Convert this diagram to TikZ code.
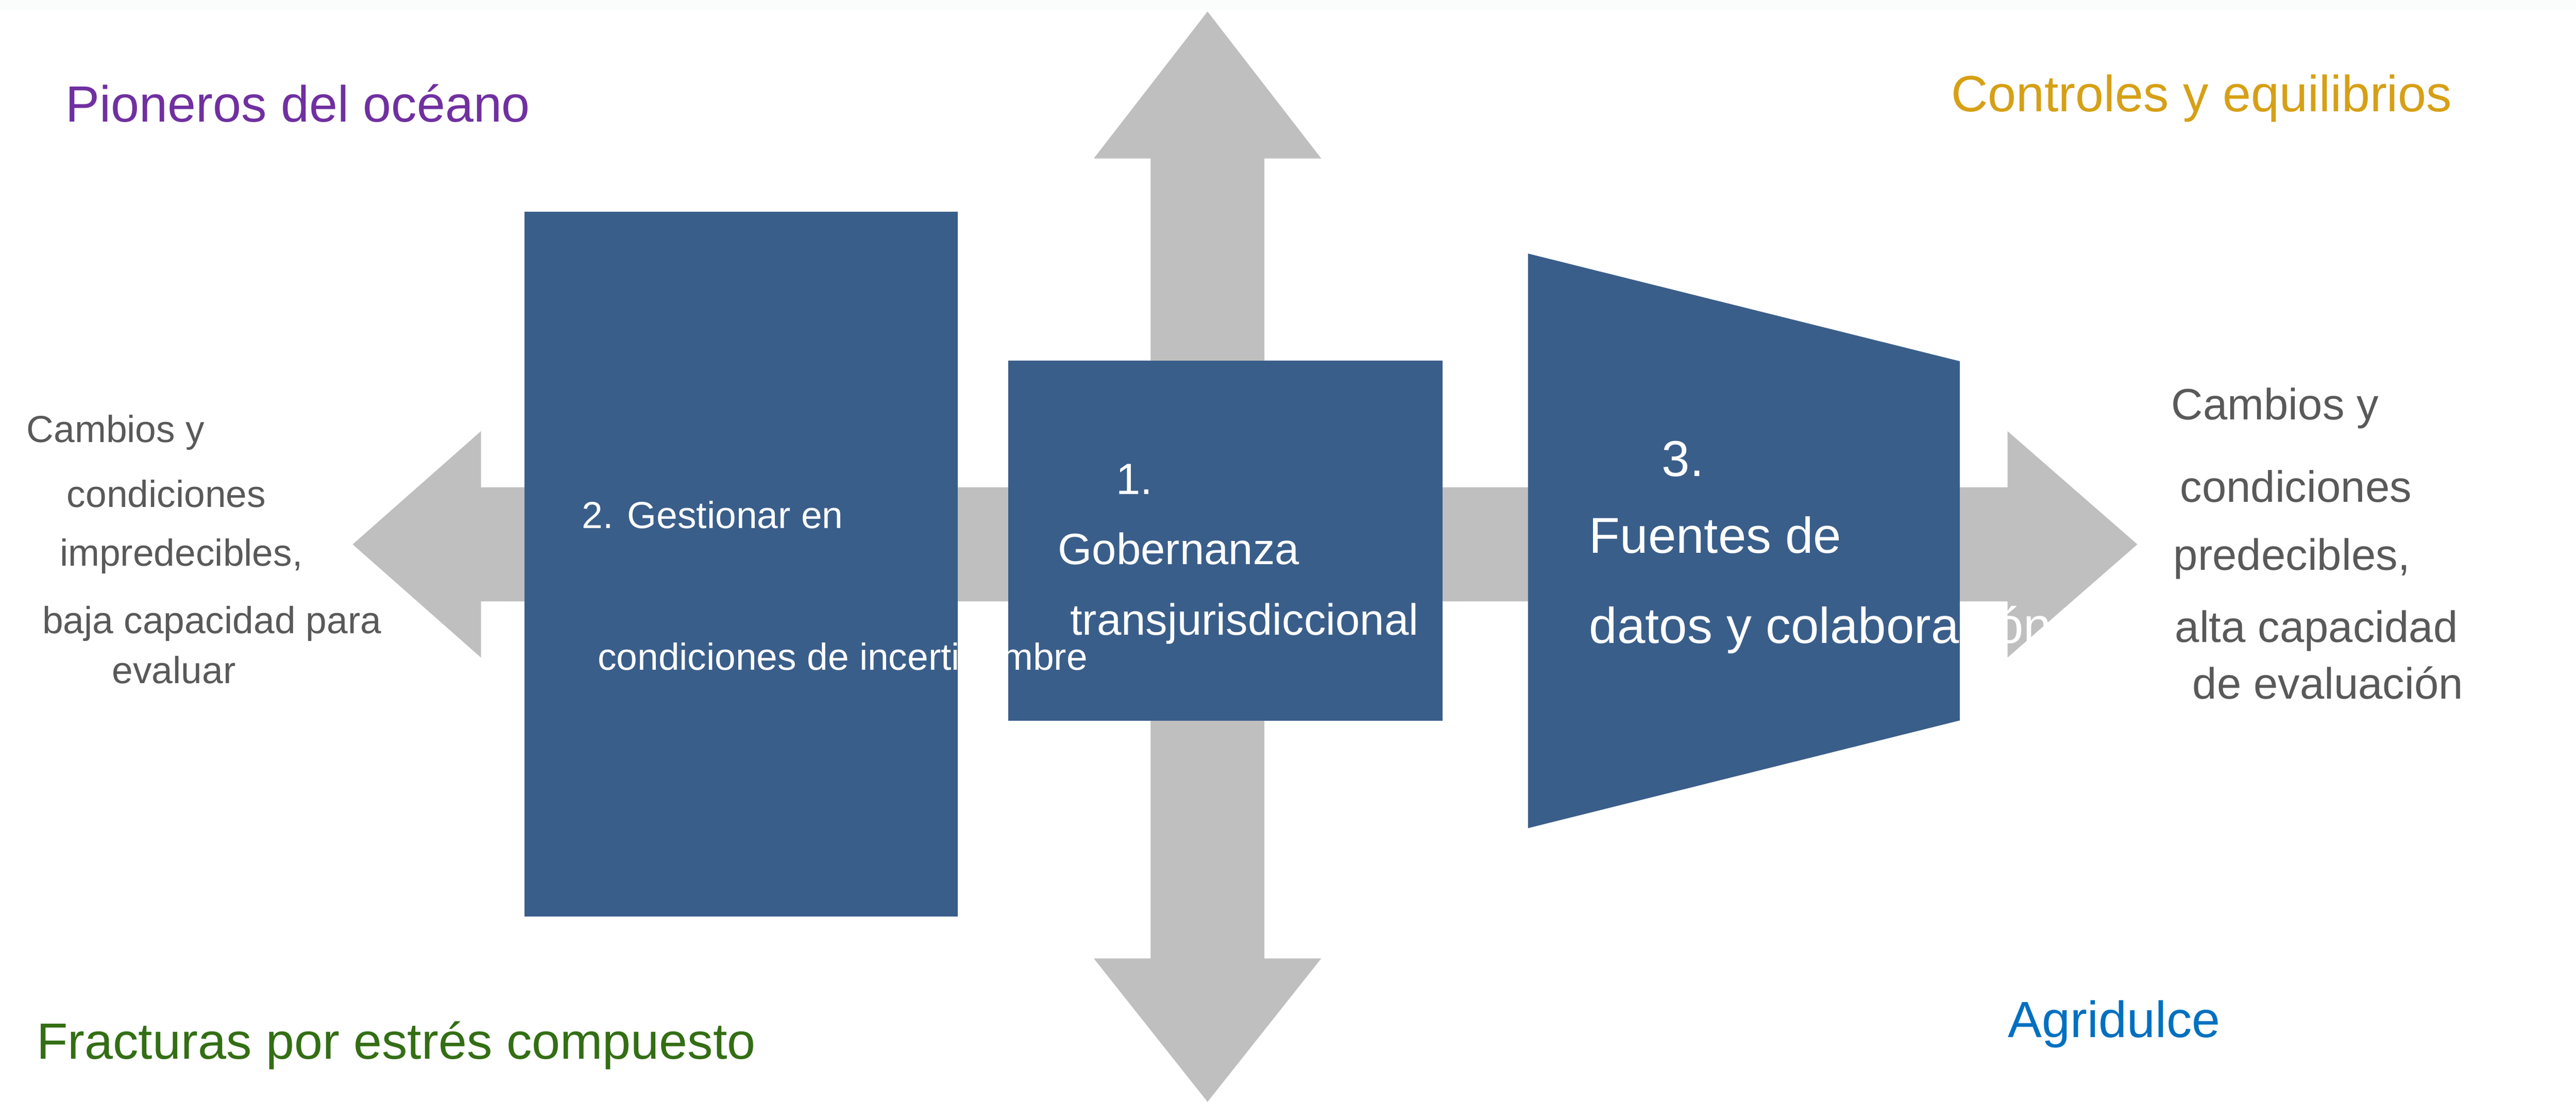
\documentclass[tikz,border=0pt]{standalone}
\usepackage{fontspec}
\setmainfont{Liberation Sans}
\usetikzlibrary{positioning}
\definecolor{panel}{RGB}{58,94,138}
\definecolor{flecha}{RGB}{191,191,191}
\definecolor{texto}{RGB}{89,89,89}
\definecolor{morado}{RGB}{112,48,160}
\definecolor{dorado}{RGB}{214,160,22}
\definecolor{verde}{RGB}{51,110,20}
\definecolor{azul}{RGB}{0,112,192}
\definecolor{franja}{RGB}{250,253,252}
\tikzset{every node/.append style={inner sep=0pt, outer sep=0pt}}
\tikzset{titulo/.style={anchor=base west, font=\fontsize{28.8}{34}\selectfont}}
\tikzset{lado/.style={anchor=mid west, text=texto}}
\tikzset{caja/.style={fill=panel, draw=none, anchor=south west}}
\tikzset{blanco/.style={anchor=mid west, text=white}}

\begin{document}
\begin{tikzpicture}
  \useasboundingbox (0,0) rectangle (51.2,21.9);
  \fill[white] (0,0) rectangle (51.2,21.9);
  \fill[franja] (0,21.7) rectangle (51.2,21.9);

  % gray cross of arrows
  \fill[flecha] (7.01,11.08) -- (9.56,13.33) -- (9.56,12.215) -- (39.90,12.215)
    -- (39.90,13.33) -- (42.48,11.08) -- (39.90,8.83) -- (39.90,9.945)
    -- (9.56,9.945) -- (9.56,8.83) -- cycle;
  \fill[flecha] (24.00,21.67) -- (26.26,18.75) -- (25.13,18.75) -- (25.13,2.85)
    -- (26.26,2.85) -- (24.00,0) -- (21.74,2.85) -- (22.87,2.85)
    -- (22.87,18.75) -- (21.74,18.75) -- cycle;

  % blue panels
  \node[caja, minimum width=8.62cm, minimum height=14.01cm] (gestion) at (10.42,3.68) {};
  \node[caja, minimum width=8.63cm, minimum height=7.16cm] (gobernanza) at (20.04,7.57) {};
  \fill[panel] (30.37,16.86) -- (38.95,14.72) -- (38.95,7.58) -- (30.37,5.44) -- cycle;

  % corner titles
  \node[titulo, text=morado] (oceano) at (1.31,19.48) {Pioneros del océano};
  \node[titulo, text=dorado] (controles) at (38.78,19.68) {Controles y equilibrios};
  \node[titulo, text=verde] (fracturas) at (0.73,0.85) {Fracturas por estrés compuesto};
  \node[titulo, text=azul] (agridulce) at (39.91,1.28) {Agridulce};

  % side texts
  \foreach \x/\y/\t [count=\i] in {0.53/13.20/{Cambios y}, 1.33/11.91/{condiciones},
      1.19/10.74/{impredecibles,}, 0.84/9.40/{baja capacidad para}, 2.23/8.41/{evaluar}}
    \node[lado, font=\fontsize{21.3}{26}\selectfont] (izq-\i) at (\x,\y) {\t};
  \foreach \x/\y/\t [count=\i] in {43.16/13.65/{Cambios y}, 43.33/12.01/{condiciones},
      43.20/10.66/{predecibles,}, 43.23/9.23/{alta capacidad}, 43.58/8.10/{de evaluación}}
    \node[lado, font=\fontsize{24.8}{30}\selectfont] (der-\i) at (\x,\y) {\t};

  % panel texts
  \node[blanco, font=\fontsize{21.3}{26}\selectfont] (gestion-a) at (11.57,11.49) {2. Gestionar en};
  \node[blanco, font=\fontsize{21.3}{26}\selectfont] (gestion-b) at (11.88,8.68) {condiciones de incertidumbre};
  \node[blanco, font=\fontsize{24.8}{30}\selectfont] (gobernanza-a) at (22.18,12.17) {1.};
  \node[blanco, font=\fontsize{24.8}{30}\selectfont] (gobernanza-b) at (21.03,10.77) {Gobernanza};
  \node[blanco, font=\fontsize{24.8}{30}\selectfont] (gobernanza-c) at (21.27,9.37) {transjurisdiccional};
  \node[blanco, font=\fontsize{28.5}{34}\selectfont] (fuentes-a) at (33.03,12.53) {3.};
  \node[blanco, font=\fontsize{28.5}{34}\selectfont] (fuentes-b) at (31.59,11.00) {Fuentes de};
  \node[blanco, font=\fontsize{28.5}{34}\selectfont] (fuentes-c) at (31.59,9.21) {datos y colaboración};
\end{tikzpicture}
\end{document}
